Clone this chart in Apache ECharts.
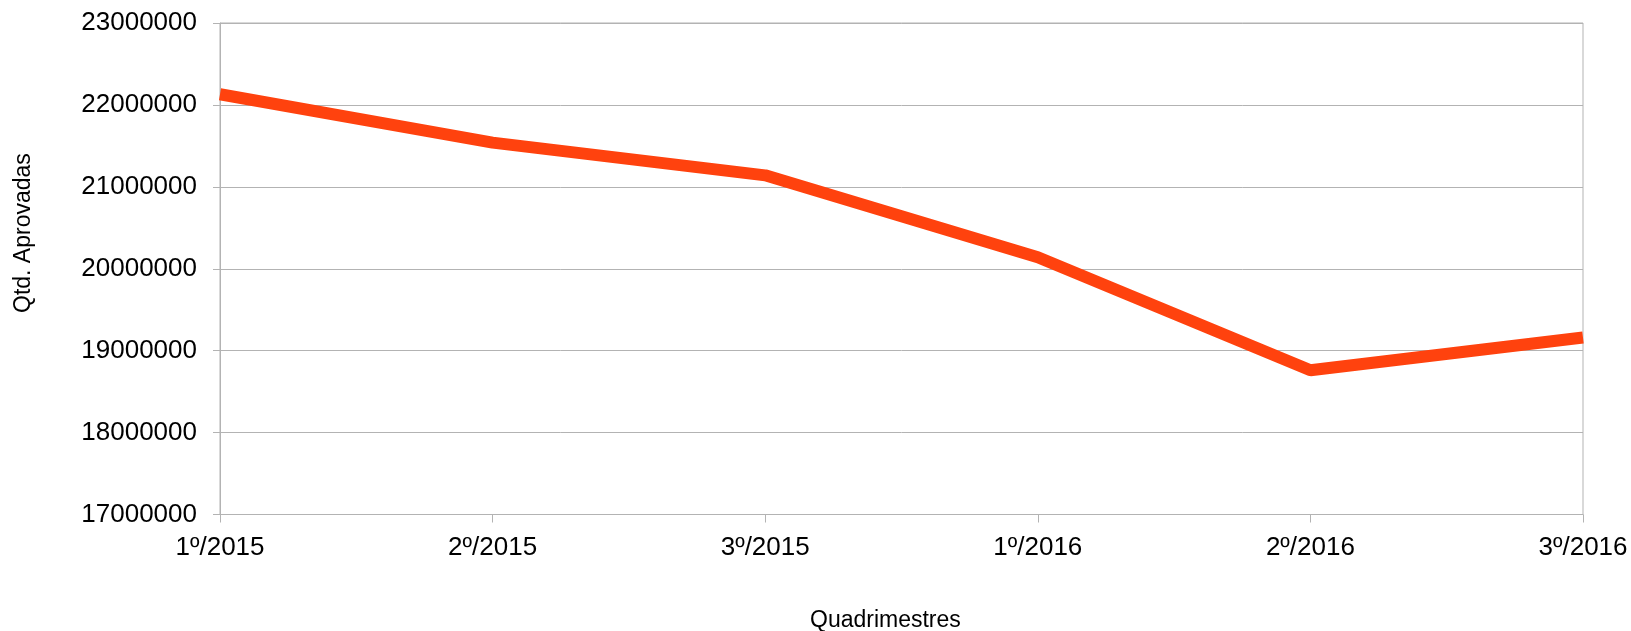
<!DOCTYPE html>
<html>
<head>
<meta charset="utf-8">
<script src="https://cdn.jsdelivr.net/npm/echarts@6/dist/echarts.min.js"></script>
<style>
    html, body { margin: 0; padding: 0; background: #fff; }
    #chart { width: 1631px; height: 631px; }
</style>
</head>
<body>
<div id="chart"></div>
<script>
    // quadrimestres (eixo x)
    var categories = ['1º/2015', '2º/2015', '3º/2015', '1º/2016', '2º/2016', '3º/2016'];
    // quantidade aprovada por quadrimestre
    var aprovadas = [22130000, 21540000, 21140000, 20140000, 18760000, 19160000];
    // limites do eixo y
    var yMin = 17000000, yMax = 23000000, yStep = 1000000;

    var fonte = '"Liberation Sans", Arial, sans-serif';
    var cinza = '#b3b3b3';
    // rotulo com caixa baixa, para o 1º rotulo do eixo x nao ser empurrado
    var rotulo = { t: { color: '#000', fontSize: 26, fontFamily: fonte, height: 6, lineHeight: 6 } };

    var chart = echarts.init(document.getElementById('chart'));
    var option = {
        animation: false,
        textStyle: { fontFamily: fonte },
        grid: {
            left: 220, top: 23, right: 48, bottom: 116.5,
            show: true, borderColor: cinza, borderWidth: 1
        },
        xAxis: {
            type: 'category',
            data: categories,
            boundaryGap: false,
            axisLine: { lineStyle: { color: cinza } },
            axisTick: { length: 8, lineStyle: { color: cinza } },
            axisLabel: {
                margin: 30,
                formatter: function (v) { return '{t|' + v + '}'; },
                rich: rotulo
            },
            splitLine: { show: false }
        },
        yAxis: {
            type: 'value',
            min: yMin, max: yMax, interval: yStep,
            axisLine: { show: true, lineStyle: { color: cinza } },
            axisTick: { show: true, length: 7, lineStyle: { color: cinza } },
            axisLabel: {
                margin: 23,
                formatter: function (v) { return '{t|' + String(v) + '}'; },
                rich: rotulo
            },
            splitLine: { lineStyle: { color: cinza } }
        },
        graphic: [
            {
                type: 'text', left: 810, top: 609,
                style: { text: 'Quadrimestres', fill: '#000', fontSize: 23, fontFamily: fonte }
            },
            {
                type: 'text', x: 12, y: 313, rotation: Math.PI / 2,
                style: { text: 'Qtd. Aprovadas', fill: '#000', fontSize: 23, fontFamily: fonte }
            }
        ],
        series: [{
            type: 'line',
            data: aprovadas,
            showSymbol: false,
            lineStyle: { color: '#ff420e', width: 12 }
        }]
    };
    chart.setOption(option);
</script>
</body>
</html>
